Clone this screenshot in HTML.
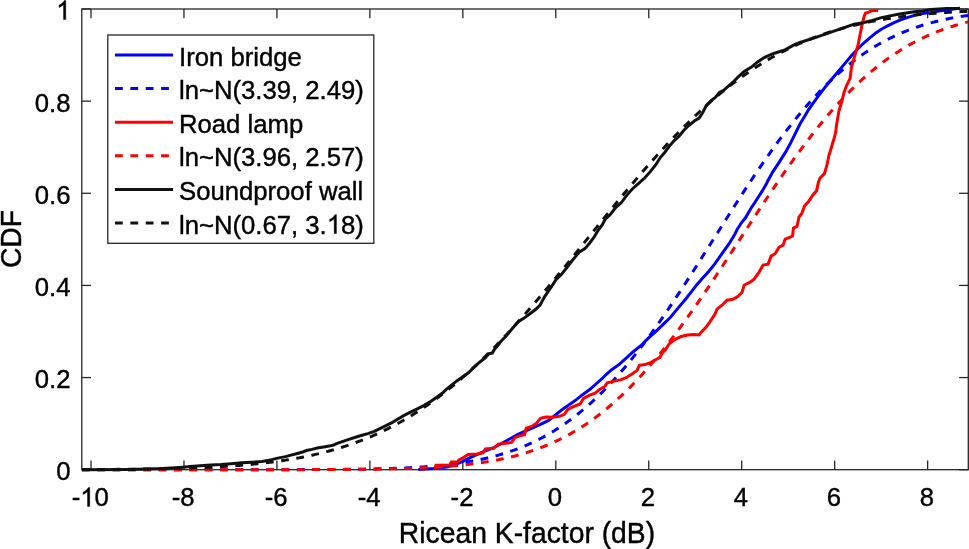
<!DOCTYPE html>
<html><head><meta charset="utf-8"><style>
html,body{margin:0;padding:0;background:#fff;}
svg{display:block;will-change:transform;}
text{font-family:"Liberation Sans",sans-serif;fill:#000;stroke:#000;stroke-width:0.4px;font-kerning:none;}
.h{fill:none;stroke:none;}
.one{fill:#000;stroke:#000;stroke-width:31.9;}
</style></head><body>
<svg width="969" height="549" viewBox="0 0 969 549">
<rect x="0" y="0" width="969" height="549" fill="#fff"/>
<g stroke="#262626" stroke-width="1.3" fill="none">
<rect x="81.8" y="9.0" width="886.5" height="460.7"/>
<line x1="91.00" y1="469.7" x2="91.00" y2="460.5"/><line x1="91.00" y1="9.0" x2="91.00" y2="18.2"/><line x1="183.96" y1="469.7" x2="183.96" y2="460.5"/><line x1="183.96" y1="9.0" x2="183.96" y2="18.2"/><line x1="276.92" y1="469.7" x2="276.92" y2="460.5"/><line x1="276.92" y1="9.0" x2="276.92" y2="18.2"/><line x1="369.88" y1="469.7" x2="369.88" y2="460.5"/><line x1="369.88" y1="9.0" x2="369.88" y2="18.2"/><line x1="462.84" y1="469.7" x2="462.84" y2="460.5"/><line x1="462.84" y1="9.0" x2="462.84" y2="18.2"/><line x1="555.80" y1="469.7" x2="555.80" y2="460.5"/><line x1="555.80" y1="9.0" x2="555.80" y2="18.2"/><line x1="648.76" y1="469.7" x2="648.76" y2="460.5"/><line x1="648.76" y1="9.0" x2="648.76" y2="18.2"/><line x1="741.72" y1="469.7" x2="741.72" y2="460.5"/><line x1="741.72" y1="9.0" x2="741.72" y2="18.2"/><line x1="834.68" y1="469.7" x2="834.68" y2="460.5"/><line x1="834.68" y1="9.0" x2="834.68" y2="18.2"/><line x1="927.64" y1="469.7" x2="927.64" y2="460.5"/><line x1="927.64" y1="9.0" x2="927.64" y2="18.2"/><line x1="81.8" y1="469.70" x2="91.0" y2="469.70"/><line x1="968.3" y1="469.70" x2="959.0999999999999" y2="469.70"/><line x1="81.8" y1="377.56" x2="91.0" y2="377.56"/><line x1="968.3" y1="377.56" x2="959.0999999999999" y2="377.56"/><line x1="81.8" y1="285.42" x2="91.0" y2="285.42"/><line x1="968.3" y1="285.42" x2="959.0999999999999" y2="285.42"/><line x1="81.8" y1="193.28" x2="91.0" y2="193.28"/><line x1="968.3" y1="193.28" x2="959.0999999999999" y2="193.28"/><line x1="81.8" y1="101.14" x2="91.0" y2="101.14"/><line x1="968.3" y1="101.14" x2="959.0999999999999" y2="101.14"/><line x1="81.8" y1="9.00" x2="91.0" y2="9.00"/><line x1="968.3" y1="9.00" x2="959.0999999999999" y2="9.00"/>
</g>
<defs><clipPath id="c"><rect x="81.8" y="6.0" width="887.0" height="466.7"/></clipPath></defs>
<g clip-path="url(#c)" fill="none" stroke-width="3.0" stroke-linejoin="miter" stroke-miterlimit="2" stroke-linecap="butt">
<path d="M418.4,469.4 L433.0,468.6 L446.7,467.1 L455.9,464.4 L462.8,461.4 L471.2,457.2 L481.8,452.4 L493.7,447.7 L505.5,441.2 L517.4,434.7 L529.2,429.3 L540.0,424.6 L548.7,420.4 L555.5,414.9 L562.3,409.5 L569.2,404.7 L576.0,399.9 L582.9,394.4 L589.7,389.6 L596.5,383.5 L602.0,378.7 L605.8,374.8 L611.7,369.7 L618.9,364.6 L626.2,358.1 L633.5,351.5 L640.8,345.7 L648.1,338.4 L655.3,331.8 L662.7,324.9 L670.5,317.2 L678.2,307.9 L685.9,298.7 L692.1,290.9 L696.8,284.7 L702.5,278.2 L708.7,271.4 L714.6,264.1 L721.8,253.9 L729.1,243.7 L735.0,234.0 L737.3,229.2 L741.4,222.8 L745.5,217.8 L747.8,213.7 L751.0,208.2 L754.6,202.8 L758.2,197.3 L762.3,190.9 L766.0,184.6 L768.3,180.0 L772.5,172.3 L779.4,161.9 L785.4,152.4 L789.8,144.6 L795.0,134.2 L800.1,123.8 L805.3,115.2 L808.6,109.5 L817.3,97.4 L825.9,86.2 L834.6,75.8 L841.0,68.1 L846.0,62.1 L852.0,55.1 L858.0,48.8 L864.0,42.8 L870.1,37.7 L876.1,32.7 L882.1,28.7 L888.1,25.7 L894.1,22.7 L900.0,20.2 L906.3,17.8 L914.4,15.4 L922.6,13.6 L930.7,12.5 L938.9,11.0 L947.0,10.0 L955.0,8.8 L960.0,8.3" stroke="#0000ff"/>
<path d="M81.80,469.70 L84.02,469.70 L86.23,469.70 L88.45,469.70 L90.66,469.70 L92.88,469.70 L95.10,469.70 L97.31,469.70 L99.53,469.70 L101.75,469.70 L103.96,469.70 L106.18,469.70 L108.39,469.70 L110.61,469.70 L112.83,469.70 L115.04,469.70 L117.26,469.70 L119.48,469.70 L121.69,469.70 L123.91,469.70 L126.13,469.70 L128.34,469.70 L130.56,469.70 L132.77,469.70 L134.99,469.70 L137.21,469.70 L139.42,469.70 L141.64,469.70 L143.85,469.70 L146.07,469.70 L148.29,469.70 L150.50,469.70 L152.72,469.70 L154.94,469.70 L157.15,469.70 L159.37,469.70 L161.58,469.70 L163.80,469.70 L166.02,469.70 L168.23,469.70 L170.45,469.70 L172.67,469.70 L174.88,469.70 L177.10,469.70 L179.31,469.70 L181.53,469.70 L183.75,469.70 L185.96,469.70 L188.18,469.70 L190.40,469.70 L192.61,469.70 L194.83,469.70 L197.04,469.70 L199.26,469.70 L201.48,469.70 L203.69,469.70 L205.91,469.70 L208.13,469.70 L210.34,469.70 L212.56,469.70 L214.77,469.70 L216.99,469.70 L219.21,469.70 L221.42,469.70 L223.64,469.69 L225.86,469.69 L228.07,469.69 L230.29,469.69 L232.50,469.69 L234.72,469.69 L236.94,469.69 L239.15,469.69 L241.37,469.69 L243.59,469.69 L245.80,469.69 L248.02,469.69 L250.23,469.69 L252.45,469.68 L254.67,469.68 L256.88,469.68 L259.10,469.68 L261.32,469.68 L263.53,469.68 L265.75,469.67 L267.96,469.67 L270.18,469.67 L272.40,469.67 L274.61,469.67 L276.83,469.66 L279.05,469.66 L281.26,469.66 L283.48,469.65 L285.69,469.65 L287.91,469.65 L290.13,469.64 L292.34,469.64 L294.56,469.63 L296.78,469.63 L298.99,469.62 L301.21,469.61 L303.42,469.61 L305.64,469.60 L307.86,469.59 L310.07,469.59 L312.29,469.58 L314.51,469.57 L316.72,469.56 L318.94,469.55 L321.15,469.54 L323.37,469.53 L325.59,469.51 L327.80,469.50 L330.02,469.49 L332.24,469.47 L334.45,469.46 L336.67,469.44 L338.88,469.42 L341.10,469.40 L343.32,469.38 L345.53,469.36 L347.75,469.34 L349.97,469.31 L352.18,469.28 L354.40,469.26 L356.61,469.23 L358.83,469.20 L361.05,469.16 L363.26,469.13 L365.48,469.09 L367.70,469.05 L369.91,469.01 L372.13,468.96 L374.34,468.92 L376.56,468.87 L378.78,468.82 L380.99,468.76 L383.21,468.70 L385.43,468.64 L387.64,468.57 L389.86,468.51 L392.07,468.43 L394.29,468.36 L396.51,468.28 L398.72,468.19 L400.94,468.10 L403.16,468.01 L405.37,467.91 L407.59,467.80 L409.81,467.69 L412.02,467.58 L414.24,467.45 L416.45,467.33 L418.67,467.19 L420.89,467.05 L423.10,466.90 L425.32,466.75 L427.53,466.59 L429.75,466.41 L431.97,466.24 L434.18,466.05 L436.40,465.85 L438.62,465.65 L440.83,465.43 L443.05,465.21 L445.26,464.97 L447.48,464.72 L449.70,464.47 L451.91,464.20 L454.13,463.92 L456.35,463.63 L458.56,463.32 L460.78,463.00 L463.00,462.67 L465.21,462.32 L467.43,461.96 L469.64,461.59 L471.86,461.20 L474.08,460.79 L476.29,460.37 L478.51,459.93 L480.72,459.47 L482.94,458.99 L485.16,458.50 L487.37,457.98 L489.59,457.45 L491.81,456.90 L494.02,456.33 L496.24,455.73 L498.45,455.11 L500.67,454.48 L502.89,453.81 L505.10,453.13 L507.32,452.42 L509.54,451.68 L511.75,450.93 L513.97,450.14 L516.18,449.33 L518.40,448.49 L520.62,447.63 L522.83,446.73 L525.05,445.81 L527.27,444.86 L529.48,443.88 L531.70,442.87 L533.91,441.82 L536.13,440.75 L538.35,439.65 L540.56,438.51 L542.78,437.34 L545.00,436.13 L547.21,434.89 L549.43,433.62 L551.64,432.31 L553.86,430.97 L556.08,429.59 L558.29,428.17 L560.51,426.72 L562.73,425.23 L564.94,423.70 L567.16,422.14 L569.37,420.53 L571.59,418.89 L573.81,417.21 L576.02,415.49 L578.24,413.73 L580.46,411.93 L582.67,410.09 L584.89,408.21 L587.11,406.29 L589.32,404.33 L591.54,402.32 L593.75,400.28 L595.97,398.20 L598.19,396.07 L600.40,393.91 L602.62,391.70 L604.83,389.45 L607.05,387.17 L609.27,384.84 L611.48,382.47 L613.70,380.06 L615.92,377.61 L618.13,375.12 L620.35,372.59 L622.57,370.03 L624.78,367.42 L627.00,364.77 L629.21,362.09 L631.43,359.37 L633.65,356.61 L635.86,353.82 L638.08,350.99 L640.29,348.12 L642.51,345.22 L644.73,342.29 L646.94,339.32 L649.16,336.32 L651.38,333.28 L653.59,330.22 L655.81,327.12 L658.02,324.00 L660.24,320.84 L662.46,317.66 L664.67,314.46 L666.89,311.22 L669.11,307.96 L671.32,304.68 L673.54,301.37 L675.75,298.04 L677.97,294.70 L680.19,291.33 L682.40,287.94 L684.62,284.54 L686.84,281.12 L689.05,277.68 L691.27,274.23 L693.49,270.77 L695.70,267.30 L697.92,263.81 L700.13,260.32 L702.35,256.82 L704.57,253.31 L706.78,249.80 L709.00,246.29 L711.21,242.77 L713.43,239.25 L715.65,235.73 L717.86,232.21 L720.08,228.70 L722.30,225.18 L724.51,221.68 L726.73,218.18 L728.95,214.69 L731.16,211.20 L733.38,207.73 L735.59,204.27 L737.81,200.82 L740.03,197.39 L742.24,193.97 L744.46,190.56 L746.67,187.18 L748.89,183.81 L751.11,180.46 L753.32,177.14 L755.54,173.83 L757.76,170.55 L759.97,167.29 L762.19,164.06 L764.40,160.85 L766.62,157.67 L768.84,154.52 L771.05,151.40 L773.27,148.30 L775.49,145.24 L777.70,142.21 L779.92,139.21 L782.13,136.24 L784.35,133.31 L786.57,130.41 L788.78,127.55 L791.00,124.72 L793.22,121.93 L795.43,119.17 L797.65,116.45 L799.87,113.77 L802.08,111.13 L804.30,108.52 L806.51,105.96 L808.73,103.43 L810.95,100.95 L813.16,98.50 L815.38,96.09 L817.59,93.73 L819.81,91.40 L822.03,89.12 L824.24,86.87 L826.46,84.67 L828.68,82.50 L830.89,80.38 L833.11,78.30 L835.33,76.26 L837.54,74.26 L839.76,72.30 L841.97,70.38 L844.19,68.50 L846.41,66.67 L848.62,64.87 L850.84,63.11 L853.06,61.39 L855.27,59.71 L857.49,58.07 L859.70,56.47 L861.92,54.91 L864.14,53.38 L866.35,51.89 L868.57,50.44 L870.78,49.03 L873.00,47.65 L875.22,46.31 L877.43,45.01 L879.65,43.73 L881.87,42.50 L884.08,41.29 L886.30,40.13 L888.51,38.99 L890.73,37.89 L892.95,36.81 L895.16,35.77 L897.38,34.76 L899.60,33.78 L901.81,32.83 L904.03,31.91 L906.24,31.02 L908.46,30.16 L910.68,29.32 L912.89,28.51 L915.11,27.73 L917.33,26.97 L919.54,26.24 L921.76,25.53 L923.97,24.85 L926.19,24.19 L928.41,23.55 L930.62,22.93 L932.84,22.34 L935.06,21.77 L937.27,21.22 L939.49,20.68 L941.71,20.17 L943.92,19.68 L946.14,19.20 L948.35,18.75 L950.57,18.31 L952.79,17.89 L955.00,17.48 L957.22,17.09 L959.44,16.72 L961.65,16.36 L963.87,16.01 L966.08,15.68 L968.30,15.36" stroke="#0000ff" stroke-dasharray="7.8 7.56"/>
<path d="M434.5,469.0 L436.0,465.2 L449.8,465.0 L451.3,462.1 L457.4,462.1 L459.0,459.8 L463.6,457.5 L468.1,454.5 L477.1,454.0 L483.0,453.0 L485.4,448.9 L493.7,448.3 L498.4,444.2 L505.5,443.3 L511.5,442.4 L515.0,437.6 L519.7,435.9 L524.5,434.7 L526.3,428.2 L531.6,426.4 L536.3,423.4 L540.5,418.4 L545.9,417.0 L552.8,417.3 L559.6,416.3 L564.4,414.3 L567.8,409.5 L573.3,406.7 L580.1,404.0 L583.5,398.5 L589.7,395.1 L595.2,393.1 L599.3,389.6 L605.0,386.2 L607.3,382.8 L613.1,381.4 L620.4,379.9 L626.2,377.7 L632.0,374.1 L637.1,370.4 L639.3,365.3 L645.1,364.6 L651.0,362.4 L656.1,359.5 L660.0,357.3 L662.3,352.9 L665.6,349.6 L668.9,344.2 L674.3,339.8 L681.3,336.5 L687.5,335.0 L693.7,334.5 L699.1,335.0 L701.4,331.9 L706.0,327.3 L709.9,321.9 L715.0,314.1 L717.0,309.2 L722.0,305.2 L727.0,300.2 L733.0,299.2 L738.1,296.2 L742.1,292.2 L744.1,285.2 L750.1,282.2 L754.1,279.2 L759.1,272.1 L763.1,265.1 L768.1,264.1 L771.1,256.1 L775.1,253.7 L779.1,247.1 L783.1,245.1 L785.2,239.1 L790.2,237.1 L792.5,236.0 L793.5,228.0 L797.0,226.5 L799.0,217.0 L801.8,213.5 L804.5,206.0 L808.8,201.3 L813.2,194.4 L816.6,190.9 L818.4,182.3 L820.1,178.0 L824.4,173.6 L827.0,165.0 L828.7,156.3 L831.3,147.7 L833.9,139.0 L835.7,132.1 L836.5,125.2 L838.9,111.2 L841.5,102.6 L844.1,92.2 L846.7,85.3 L850.1,78.4 L851.5,67.0 L855.0,55.1 L858.0,45.1 L860.0,35.0 L862.0,25.0 L864.3,16.0 L865.5,13.2 L868.7,12.2 L871.4,10.8 L878.2,10.5" stroke="#ff0000"/>
<path d="M81.80,469.70 L84.02,469.70 L86.23,469.70 L88.45,469.70 L90.66,469.70 L92.88,469.70 L95.10,469.70 L97.31,469.70 L99.53,469.70 L101.75,469.70 L103.96,469.70 L106.18,469.70 L108.39,469.70 L110.61,469.70 L112.83,469.70 L115.04,469.70 L117.26,469.70 L119.48,469.70 L121.69,469.70 L123.91,469.70 L126.13,469.70 L128.34,469.70 L130.56,469.70 L132.77,469.70 L134.99,469.70 L137.21,469.70 L139.42,469.70 L141.64,469.70 L143.85,469.70 L146.07,469.70 L148.29,469.70 L150.50,469.70 L152.72,469.70 L154.94,469.70 L157.15,469.70 L159.37,469.70 L161.58,469.70 L163.80,469.70 L166.02,469.70 L168.23,469.70 L170.45,469.70 L172.67,469.70 L174.88,469.70 L177.10,469.70 L179.31,469.70 L181.53,469.70 L183.75,469.70 L185.96,469.70 L188.18,469.70 L190.40,469.70 L192.61,469.70 L194.83,469.70 L197.04,469.70 L199.26,469.70 L201.48,469.70 L203.69,469.70 L205.91,469.70 L208.13,469.70 L210.34,469.70 L212.56,469.70 L214.77,469.70 L216.99,469.70 L219.21,469.70 L221.42,469.70 L223.64,469.70 L225.86,469.70 L228.07,469.70 L230.29,469.70 L232.50,469.70 L234.72,469.69 L236.94,469.69 L239.15,469.69 L241.37,469.69 L243.59,469.69 L245.80,469.69 L248.02,469.69 L250.23,469.69 L252.45,469.69 L254.67,469.69 L256.88,469.69 L259.10,469.69 L261.32,469.69 L263.53,469.68 L265.75,469.68 L267.96,469.68 L270.18,469.68 L272.40,469.68 L274.61,469.68 L276.83,469.68 L279.05,469.67 L281.26,469.67 L283.48,469.67 L285.69,469.67 L287.91,469.66 L290.13,469.66 L292.34,469.66 L294.56,469.66 L296.78,469.65 L298.99,469.65 L301.21,469.64 L303.42,469.64 L305.64,469.64 L307.86,469.63 L310.07,469.63 L312.29,469.62 L314.51,469.61 L316.72,469.61 L318.94,469.60 L321.15,469.59 L323.37,469.59 L325.59,469.58 L327.80,469.57 L330.02,469.56 L332.24,469.55 L334.45,469.54 L336.67,469.53 L338.88,469.52 L341.10,469.51 L343.32,469.49 L345.53,469.48 L347.75,469.46 L349.97,469.45 L352.18,469.43 L354.40,469.41 L356.61,469.39 L358.83,469.37 L361.05,469.35 L363.26,469.33 L365.48,469.30 L367.70,469.28 L369.91,469.25 L372.13,469.22 L374.34,469.19 L376.56,469.16 L378.78,469.12 L380.99,469.09 L383.21,469.05 L385.43,469.01 L387.64,468.96 L389.86,468.92 L392.07,468.87 L394.29,468.82 L396.51,468.77 L398.72,468.71 L400.94,468.65 L403.16,468.59 L405.37,468.52 L407.59,468.45 L409.81,468.38 L412.02,468.30 L414.24,468.22 L416.45,468.14 L418.67,468.05 L420.89,467.95 L423.10,467.86 L425.32,467.75 L427.53,467.64 L429.75,467.53 L431.97,467.41 L434.18,467.28 L436.40,467.15 L438.62,467.01 L440.83,466.87 L443.05,466.71 L445.26,466.55 L447.48,466.39 L449.70,466.21 L451.91,466.03 L454.13,465.84 L456.35,465.64 L458.56,465.43 L460.78,465.21 L463.00,464.99 L465.21,464.75 L467.43,464.50 L469.64,464.24 L471.86,463.97 L474.08,463.69 L476.29,463.40 L478.51,463.09 L480.72,462.78 L482.94,462.45 L485.16,462.10 L487.37,461.74 L489.59,461.37 L491.81,460.98 L494.02,460.58 L496.24,460.16 L498.45,459.73 L500.67,459.28 L502.89,458.81 L505.10,458.32 L507.32,457.82 L509.54,457.30 L511.75,456.76 L513.97,456.20 L516.18,455.62 L518.40,455.02 L520.62,454.39 L522.83,453.75 L525.05,453.08 L527.27,452.40 L529.48,451.68 L531.70,450.95 L533.91,450.19 L536.13,449.41 L538.35,448.60 L540.56,447.76 L542.78,446.90 L545.00,446.01 L547.21,445.10 L549.43,444.16 L551.64,443.18 L553.86,442.18 L556.08,441.16 L558.29,440.10 L560.51,439.01 L562.73,437.89 L564.94,436.74 L567.16,435.55 L569.37,434.34 L571.59,433.09 L573.81,431.81 L576.02,430.49 L578.24,429.15 L580.46,427.76 L582.67,426.35 L584.89,424.89 L587.11,423.41 L589.32,421.88 L591.54,420.32 L593.75,418.73 L595.97,417.10 L598.19,415.43 L600.40,413.72 L602.62,411.98 L604.83,410.20 L607.05,408.38 L609.27,406.52 L611.48,404.62 L613.70,402.69 L615.92,400.72 L618.13,398.71 L620.35,396.66 L622.57,394.58 L624.78,392.45 L627.00,390.29 L629.21,388.09 L631.43,385.85 L633.65,383.57 L635.86,381.25 L638.08,378.90 L640.29,376.51 L642.51,374.08 L644.73,371.62 L646.94,369.12 L649.16,366.58 L651.38,364.00 L653.59,361.39 L655.81,358.75 L658.02,356.07 L660.24,353.36 L662.46,350.61 L664.67,347.83 L666.89,345.02 L669.11,342.17 L671.32,339.29 L673.54,336.38 L675.75,333.45 L677.97,330.48 L680.19,327.48 L682.40,324.46 L684.62,321.41 L686.84,318.33 L689.05,315.23 L691.27,312.10 L693.49,308.95 L695.70,305.78 L697.92,302.58 L700.13,299.37 L702.35,296.13 L704.57,292.87 L706.78,289.60 L709.00,286.31 L711.21,283.01 L713.43,279.69 L715.65,276.35 L717.86,273.00 L720.08,269.65 L722.30,266.28 L724.51,262.90 L726.73,259.51 L728.95,256.12 L731.16,252.72 L733.38,249.32 L735.59,245.91 L737.81,242.51 L740.03,239.10 L742.24,235.69 L744.46,232.28 L746.67,228.87 L748.89,225.47 L751.11,222.07 L753.32,218.68 L755.54,215.29 L757.76,211.92 L759.97,208.55 L762.19,205.19 L764.40,201.85 L766.62,198.52 L768.84,195.20 L771.05,191.90 L773.27,188.61 L775.49,185.34 L777.70,182.09 L779.92,178.85 L782.13,175.64 L784.35,172.45 L786.57,169.28 L788.78,166.13 L791.00,163.01 L793.22,159.91 L795.43,156.83 L797.65,153.79 L799.87,150.77 L802.08,147.78 L804.30,144.81 L806.51,141.88 L808.73,138.98 L810.95,136.10 L813.16,133.26 L815.38,130.45 L817.59,127.68 L819.81,124.94 L822.03,122.23 L824.24,119.55 L826.46,116.91 L828.68,114.31 L830.89,111.74 L833.11,109.21 L835.33,106.71 L837.54,104.25 L839.76,101.83 L841.97,99.45 L844.19,97.10 L846.41,94.79 L848.62,92.52 L850.84,90.28 L853.06,88.09 L855.27,85.93 L857.49,83.81 L859.70,81.73 L861.92,79.69 L864.14,77.68 L866.35,75.72 L868.57,73.79 L870.78,71.90 L873.00,70.05 L875.22,68.24 L877.43,66.46 L879.65,64.72 L881.87,63.02 L884.08,61.36 L886.30,59.73 L888.51,58.14 L890.73,56.59 L892.95,55.07 L895.16,53.59 L897.38,52.14 L899.60,50.73 L901.81,49.35 L904.03,48.01 L906.24,46.70 L908.46,45.42 L910.68,44.18 L912.89,42.97 L915.11,41.79 L917.33,40.64 L919.54,39.53 L921.76,38.44 L923.97,37.39 L926.19,36.36 L928.41,35.37 L930.62,34.40 L932.84,33.46 L935.06,32.55 L937.27,31.67 L939.49,30.81 L941.71,29.98 L943.92,29.17 L946.14,28.39 L948.35,27.64 L950.57,26.91 L952.79,26.20 L955.00,25.52 L957.22,24.85 L959.44,24.21 L961.65,23.59 L963.87,23.00 L966.08,22.42 L968.30,21.86" stroke="#ff0000" stroke-dasharray="7.8 7.56"/>
<path d="M81.9,469.8 L129.5,469.5 L162.6,468.6 L183.2,467.2 L190.0,466.6 L200.3,465.8 L210.6,465.1 L221.0,464.6 L231.3,463.7 L241.6,462.7 L251.9,462.2 L262.2,461.5 L267.4,460.6 L272.6,459.4 L277.7,458.1 L285.5,456.6 L290.9,455.1 L296.4,453.7 L301.9,452.3 L306.4,450.5 L311.9,449.4 L318.3,447.8 L323.7,446.9 L329.2,446.1 L333.7,445.0 L336.5,443.7 L341.6,441.8 L348.1,439.6 L354.7,437.5 L361.2,435.5 L367.8,433.6 L374.3,431.4 L380.9,428.2 L387.5,424.9 L392.0,422.6 L396.8,419.7 L403.7,415.6 L410.5,412.2 L417.3,408.8 L424.2,405.4 L431.0,401.3 L437.8,396.5 L443.3,392.4 L446.0,389.6 L450.9,385.6 L456.8,380.9 L462.8,376.7 L468.7,372.6 L473.4,367.9 L479.3,362.5 L485.2,357.8 L488.8,353.7 L492.3,353.1 L494.7,348.9 L498.8,344.2 L500.8,341.4 L506.6,335.5 L512.5,328.3 L518.3,321.7 L524.1,318.1 L530.0,313.7 L535.8,309.3 L540.1,305.0 L544.5,296.9 L548.9,290.4 L553.3,283.8 L555.8,279.9 L561.7,274.1 L567.5,266.8 L571.8,261.0 L575.5,256.6 L579.1,252.2 L585.0,248.6 L589.3,243.5 L593.7,237.7 L598.1,230.4 L602.4,224.6 L605.0,219.5 L610.3,214.5 L615.9,207.4 L621.4,202.6 L626.9,195.1 L632.3,189.0 L639.2,182.8 L644.6,178.0 L650.1,171.9 L655.6,165.0 L660.5,157.3 L664.7,152.5 L669.5,145.9 L674.2,140.6 L678.9,136.4 L683.7,130.5 L688.4,125.8 L694.3,121.0 L699.1,118.1 L702.6,112.8 L706.2,105.7 L710.9,100.9 L715.3,97.4 L719.4,92.5 L723.7,90.3 L728.1,86.4 L733.6,81.5 L739.0,76.1 L744.5,71.1 L751.1,67.3 L757.6,61.9 L764.2,57.5 L771.8,54.2 L778.4,52.0 L785.0,49.8 L795.0,44.4 L800.0,42.5 L817.3,36.9 L834.6,30.9 L845.0,27.3 L854.1,24.1 L863.2,22.7 L872.3,20.4 L881.4,17.6 L890.0,15.9 L898.2,14.2 L906.3,13.0 L914.4,11.8 L922.6,11.0 L930.7,9.4 L938.9,9.0 L947.0,8.6 L960.0,8.6" stroke="#111"/>
<path d="M81.80,469.55 L84.02,469.55 L86.23,469.54 L88.45,469.53 L90.66,469.52 L92.88,469.51 L95.10,469.50 L97.31,469.49 L99.53,469.48 L101.75,469.46 L103.96,469.45 L106.18,469.44 L108.39,469.42 L110.61,469.41 L112.83,469.39 L115.04,469.38 L117.26,469.36 L119.48,469.34 L121.69,469.32 L123.91,469.30 L126.13,469.28 L128.34,469.26 L130.56,469.24 L132.77,469.21 L134.99,469.19 L137.21,469.16 L139.42,469.13 L141.64,469.10 L143.85,469.07 L146.07,469.04 L148.29,469.01 L150.50,468.97 L152.72,468.94 L154.94,468.90 L157.15,468.86 L159.37,468.82 L161.58,468.78 L163.80,468.73 L166.02,468.69 L168.23,468.64 L170.45,468.59 L172.67,468.53 L174.88,468.48 L177.10,468.42 L179.31,468.36 L181.53,468.30 L183.75,468.23 L185.96,468.16 L188.18,468.09 L190.40,468.02 L192.61,467.94 L194.83,467.86 L197.04,467.78 L199.26,467.69 L201.48,467.60 L203.69,467.51 L205.91,467.41 L208.13,467.31 L210.34,467.20 L212.56,467.09 L214.77,466.98 L216.99,466.86 L219.21,466.74 L221.42,466.61 L223.64,466.48 L225.86,466.34 L228.07,466.20 L230.29,466.06 L232.50,465.90 L234.72,465.74 L236.94,465.58 L239.15,465.41 L241.37,465.23 L243.59,465.05 L245.80,464.86 L248.02,464.67 L250.23,464.47 L252.45,464.26 L254.67,464.04 L256.88,463.82 L259.10,463.58 L261.32,463.34 L263.53,463.10 L265.75,462.84 L267.96,462.58 L270.18,462.30 L272.40,462.02 L274.61,461.73 L276.83,461.43 L279.05,461.12 L281.26,460.80 L283.48,460.47 L285.69,460.13 L287.91,459.78 L290.13,459.42 L292.34,459.05 L294.56,458.66 L296.78,458.27 L298.99,457.86 L301.21,457.44 L303.42,457.01 L305.64,456.57 L307.86,456.11 L310.07,455.64 L312.29,455.16 L314.51,454.66 L316.72,454.15 L318.94,453.62 L321.15,453.08 L323.37,452.53 L325.59,451.96 L327.80,451.37 L330.02,450.77 L332.24,450.16 L334.45,449.52 L336.67,448.87 L338.88,448.21 L341.10,447.53 L343.32,446.83 L345.53,446.11 L347.75,445.37 L349.97,444.62 L352.18,443.85 L354.40,443.06 L356.61,442.25 L358.83,441.42 L361.05,440.58 L363.26,439.71 L365.48,438.82 L367.70,437.91 L369.91,436.99 L372.13,436.04 L374.34,435.07 L376.56,434.08 L378.78,433.07 L380.99,432.04 L383.21,430.98 L385.43,429.90 L387.64,428.80 L389.86,427.68 L392.07,426.54 L394.29,425.37 L396.51,424.18 L398.72,422.97 L400.94,421.73 L403.16,420.47 L405.37,419.19 L407.59,417.88 L409.81,416.55 L412.02,415.19 L414.24,413.81 L416.45,412.41 L418.67,410.98 L420.89,409.52 L423.10,408.04 L425.32,406.54 L427.53,405.01 L429.75,403.46 L431.97,401.88 L434.18,400.28 L436.40,398.65 L438.62,397.00 L440.83,395.32 L443.05,393.62 L445.26,391.89 L447.48,390.14 L449.70,388.36 L451.91,386.55 L454.13,384.73 L456.35,382.87 L458.56,381.00 L460.78,379.09 L463.00,377.17 L465.21,375.22 L467.43,373.24 L469.64,371.24 L471.86,369.22 L474.08,367.17 L476.29,365.10 L478.51,363.01 L480.72,360.89 L482.94,358.75 L485.16,356.59 L487.37,354.40 L489.59,352.19 L491.81,349.96 L494.02,347.71 L496.24,345.44 L498.45,343.15 L500.67,340.83 L502.89,338.50 L505.10,336.14 L507.32,333.77 L509.54,331.38 L511.75,328.96 L513.97,326.53 L516.18,324.09 L518.40,321.62 L520.62,319.14 L522.83,316.64 L525.05,314.12 L527.27,311.59 L529.48,309.04 L531.70,306.48 L533.91,303.90 L536.13,301.31 L538.35,298.70 L540.56,296.09 L542.78,293.46 L545.00,290.82 L547.21,288.16 L549.43,285.50 L551.64,282.83 L553.86,280.14 L556.08,277.45 L558.29,274.75 L560.51,272.04 L562.73,269.33 L564.94,266.60 L567.16,263.88 L569.37,261.14 L571.59,258.40 L573.81,255.66 L576.02,252.91 L578.24,250.16 L580.46,247.41 L582.67,244.66 L584.89,241.90 L587.11,239.15 L589.32,236.39 L591.54,233.64 L593.75,230.88 L595.97,228.13 L598.19,225.38 L600.40,222.63 L602.62,219.89 L604.83,217.15 L607.05,214.42 L609.27,211.69 L611.48,208.97 L613.70,206.26 L615.92,203.55 L618.13,200.85 L620.35,198.16 L622.57,195.48 L624.78,192.81 L627.00,190.14 L629.21,187.49 L631.43,184.85 L633.65,182.23 L635.86,179.61 L638.08,177.01 L640.29,174.42 L642.51,171.84 L644.73,169.28 L646.94,166.74 L649.16,164.21 L651.38,161.69 L653.59,159.20 L655.81,156.72 L658.02,154.25 L660.24,151.81 L662.46,149.38 L664.67,146.97 L666.89,144.58 L669.11,142.21 L671.32,139.86 L673.54,137.52 L675.75,135.21 L677.97,132.92 L680.19,130.65 L682.40,128.41 L684.62,126.18 L686.84,123.98 L689.05,121.79 L691.27,119.63 L693.49,117.50 L695.70,115.38 L697.92,113.29 L700.13,111.23 L702.35,109.18 L704.57,107.16 L706.78,105.17 L709.00,103.20 L711.21,101.25 L713.43,99.32 L715.65,97.43 L717.86,95.55 L720.08,93.70 L722.30,91.88 L724.51,90.08 L726.73,88.30 L728.95,86.56 L731.16,84.83 L733.38,83.13 L735.59,81.46 L737.81,79.81 L740.03,78.18 L742.24,76.58 L744.46,75.01 L746.67,73.46 L748.89,71.94 L751.11,70.44 L753.32,68.96 L755.54,67.51 L757.76,66.08 L759.97,64.68 L762.19,63.31 L764.40,61.95 L766.62,60.63 L768.84,59.32 L771.05,58.04 L773.27,56.78 L775.49,55.55 L777.70,54.34 L779.92,53.15 L782.13,51.99 L784.35,50.85 L786.57,49.73 L788.78,48.64 L791.00,47.56 L793.22,46.51 L795.43,45.48 L797.65,44.47 L799.87,43.49 L802.08,42.52 L804.30,41.57 L806.51,40.65 L808.73,39.75 L810.95,38.86 L813.16,38.00 L815.38,37.15 L817.59,36.33 L819.81,35.52 L822.03,34.74 L824.24,33.97 L826.46,33.22 L828.68,32.48 L830.89,31.77 L833.11,31.07 L835.33,30.39 L837.54,29.73 L839.76,29.08 L841.97,28.45 L844.19,27.84 L846.41,27.24 L848.62,26.66 L850.84,26.09 L853.06,25.54 L855.27,25.00 L857.49,24.48 L859.70,23.97 L861.92,23.47 L864.14,22.99 L866.35,22.52 L868.57,22.07 L870.78,21.63 L873.00,21.20 L875.22,20.78 L877.43,20.37 L879.65,19.98 L881.87,19.60 L884.08,19.23 L886.30,18.87 L888.51,18.52 L890.73,18.18 L892.95,17.85 L895.16,17.53 L897.38,17.22 L899.60,16.93 L901.81,16.64 L904.03,16.36 L906.24,16.08 L908.46,15.82 L910.68,15.57 L912.89,15.32 L915.11,15.08 L917.33,14.85 L919.54,14.63 L921.76,14.41 L923.97,14.20 L926.19,14.00 L928.41,13.81 L930.62,13.62 L932.84,13.44 L935.06,13.26 L937.27,13.10 L939.49,12.93 L941.71,12.77 L943.92,12.62 L946.14,12.48 L948.35,12.34 L950.57,12.20 L952.79,12.07 L955.00,11.94 L957.22,11.82 L959.44,11.70 L961.65,11.59 L963.87,11.48 L966.08,11.38 L968.30,11.28" stroke="#111" stroke-dasharray="7.8 7.56"/>
</g>
<g>
<text transform="translate(90.20,506.40) scale(1,1.02)" font-size="25.7" text-anchor="middle">-<tspan class="h">1</tspan>0</text><path transform="translate(90.20,506.40) scale(1,1.02) translate(-10.014,0) scale(0.012549,-0.012549)" d="M763 0H583V1147Q518 1085 412.5 1023Q307 961 223 930V1104Q374 1175 487 1276Q600 1377 647 1472H763Z" class="one"/><text transform="translate(183.16,506.40) scale(1,1.02)" font-size="25.7" text-anchor="middle">-8</text><text transform="translate(276.12,506.40) scale(1,1.02)" font-size="25.7" text-anchor="middle">-6</text><text transform="translate(369.08,506.40) scale(1,1.02)" font-size="25.7" text-anchor="middle">-4</text><text transform="translate(462.04,506.40) scale(1,1.02)" font-size="25.7" text-anchor="middle">-2</text><text transform="translate(555.00,506.40) scale(1,1.02)" font-size="25.7" text-anchor="middle">0</text><text transform="translate(647.96,506.40) scale(1,1.02)" font-size="25.7" text-anchor="middle">2</text><text transform="translate(740.92,506.40) scale(1,1.02)" font-size="25.7" text-anchor="middle">4</text><text transform="translate(833.88,506.40) scale(1,1.02)" font-size="25.7" text-anchor="middle">6</text><text transform="translate(926.84,506.40) scale(1,1.02)" font-size="25.7" text-anchor="middle">8</text>
<text transform="translate(70.50,480.10) scale(1,1.02)" font-size="25.7" text-anchor="end">0</text><text transform="translate(70.50,387.96) scale(1,1.02)" font-size="25.7" text-anchor="end">0.2</text><text transform="translate(70.50,295.82) scale(1,1.02)" font-size="25.7" text-anchor="end">0.4</text><text transform="translate(70.50,203.68) scale(1,1.02)" font-size="25.7" text-anchor="end">0.6</text><text transform="translate(70.50,111.54) scale(1,1.02)" font-size="25.7" text-anchor="end">0.8</text><text transform="translate(70.50,19.40) scale(1,1.02)" font-size="25.7" text-anchor="end"><tspan class="h">1</tspan></text><path transform="translate(70.50,19.40) scale(1,1.02) translate(-14.293,0) scale(0.012549,-0.012549)" d="M763 0H583V1147Q518 1085 412.5 1023Q307 961 223 930V1104Q374 1175 487 1276Q600 1377 647 1472H763Z" class="one"/>
</g>
<text transform="translate(527.00,542.80) scale(1,1.02)" font-size="28.3" text-anchor="middle">Ricean K-factor (dB)</text>
<text transform="translate(20.60,239.00) rotate(-90) scale(1,1.02)" font-size="28.3" text-anchor="middle">CDF</text>
<rect x="107.8" y="35" width="266" height="208.3" fill="#fff" stroke="#262626" stroke-width="1.3"/>
<g>
<line x1="115" y1="55.00" x2="173" y2="55.00" stroke="#0000ff" stroke-width="3.0"/><text transform="translate(179.00,65.50) scale(1,1.02)" font-size="25.7">Iron bridge</text><line x1="115" y1="88.60" x2="173" y2="88.60" stroke="#0000ff" stroke-width="3.0" stroke-dasharray="7.8 7.56"/><text transform="translate(179.00,99.10) scale(1,1.02)" font-size="25.7">ln~N(3.39, 2.49)</text><line x1="115" y1="122.20" x2="173" y2="122.20" stroke="#ff0000" stroke-width="3.0"/><text transform="translate(179.00,132.70) scale(1,1.02)" font-size="25.7">Road lamp</text><line x1="115" y1="155.80" x2="173" y2="155.80" stroke="#ff0000" stroke-width="3.0" stroke-dasharray="7.8 7.56"/><text transform="translate(179.00,166.30) scale(1,1.02)" font-size="25.7">ln~N(3.96, 2.57)</text><line x1="115" y1="189.40" x2="173" y2="189.40" stroke="#111111" stroke-width="3.0"/><text transform="translate(179.00,199.90) scale(1,1.02)" font-size="25.7">Soundproof wall</text><line x1="115" y1="223.00" x2="173" y2="223.00" stroke="#111111" stroke-width="3.0" stroke-dasharray="7.8 7.56"/><text transform="translate(179.00,233.50) scale(1,1.02)" font-size="25.7">ln~N(0.67, 3.<tspan class="h">1</tspan>8)</text><path transform="translate(179.00,233.50) scale(1,1.02) translate(147.863,0) scale(0.012549,-0.012549)" d="M763 0H583V1147Q518 1085 412.5 1023Q307 961 223 930V1104Q374 1175 487 1276Q600 1377 647 1472H763Z" class="one"/>
</g>
</svg>
</body></html>
